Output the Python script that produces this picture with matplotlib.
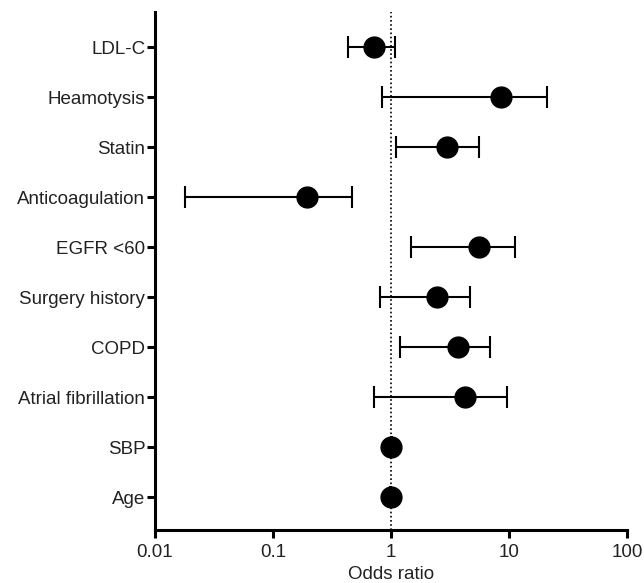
import matplotlib
matplotlib.use("Agg")
import matplotlib.pyplot as plt

# values (odds ratio with 95% CI)
labels = ["LDL-C", "Heamotysis", "Statin", "Anticoagulation", "EGFR <60",
          "Surgery history", "COPD", "Atrial fibrillation", "SBP", "Age"]
odds = [0.72, 8.55, 3.0, 0.193, 5.6, 2.45, 3.65, 4.26, 1.0, 0.99]
lower = [0.435, 0.83, 1.10, 0.018, 1.47, 0.80, 1.18, 0.71, 0.99, 0.98]
upper = [1.08, 20.9, 5.5, 0.467, 11.2, 4.67, 6.9, 9.5, 1.01, 1.00]
xticks = [0.01, 0.1, 1, 10, 100]
xtick_labels = ["0.01", "0.1", "1", "10", "100"]

plt.rcParams['font.family'] = ['Liberation Sans', 'DejaVu Sans']

fig = plt.figure(figsize=(6.44, 5.83), dpi=100)
ax = fig.add_axes([0.2407, 0.0909, 0.7333, 0.888])

n = len(labels)
ypos = [n - 1 - i for i in range(n)]
xerr = [[o - l for o, l in zip(odds, lower)], [u - o for o, u in zip(odds, upper)]]

ax.axvline(1, color='black', linestyle=(0, (1, 1.5)), linewidth=1.2, zorder=1)
ax.errorbar(odds, ypos, xerr=xerr, fmt='o', color='black', ecolor='black',
            markersize=15, elinewidth=1.5, capsize=8, capthick=1.5, zorder=3)

ax.set_xscale('log')
ax.set_xlim(0.01, 100)
ax.set_ylim(-0.66, 9.7)
ax.set_xticks(xticks)
ax.set_xticklabels(xtick_labels)
ax.minorticks_off()
ax.set_yticks(ypos)
ax.set_yticklabels(labels)
ax.set_xlabel("Odds ratio", fontsize=13.5, labelpad=4, color='#222222')

for s in ['top', 'right']:
    ax.spines[s].set_visible(False)
for s in ['left', 'bottom']:
    ax.spines[s].set_linewidth(2.2)
ax.tick_params(axis='both', labelsize=13.5, width=2.2, length=6, pad=1,
               color='black', labelcolor='#222222')
ax.tick_params(axis='x', pad=4)

fig.savefig("out.png", dpi=100)
